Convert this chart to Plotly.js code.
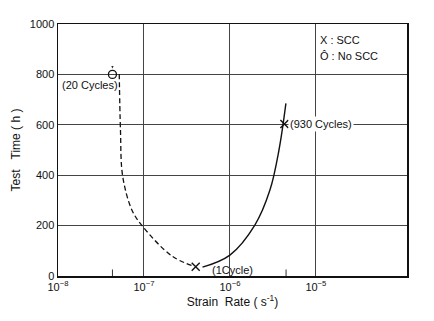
<!DOCTYPE html>
<html><head><meta charset="utf-8">
<script src="https://cdn.plot.ly/plotly-3.0.1.min.js"></script>
<style>body{margin:0;background:#fff}#c{width:434px;height:321px}</style>
</head><body><div id="c"></div>
<script>
// Dashed part of curve
const dashedRate = [5.16e-8, 5.33e-8, 5.65e-8, 7.24e-8, 9.7e-8, 2.12e-7, 3.85e-7];
const dashedTime = [802, 579, 397, 262, 196, 79, 38];
// Solid part of curve
const solidRate = [4.8e-7, 1.0e-6, 1.95e-6, 2.92e-6, 3.72e-6, 4.48e-6];
const solidTime = [35, 83, 202, 341, 500, 685];
// Test points
const noSccRate = [4.3e-8];
const noSccTime = [800];
const noSccLabel = ["(20 Cycles)"];
const sccRate = [4.0e-7, 4.3e-6];
const sccTime = [37, 603];
const sccLabel = ["(1Cycle)", "(930 Cycles)"];
const rateMarks = [4.3e-8, 4.5e-6];
const xTicks = [1e-8, 1e-7, 1e-6, 1e-5];
const xTickText = ["10<sup>−8</sup>", "10<sup>−7</sup>", "10<sup>−6</sup>", "10<sup>−5</sup>"];
const yTicks = [0, 200, 400, 600, 800, 1000];

const F = '"Liberation Sans Narrow", "Arial Narrow", "Liberation Sans", Arial, sans-serif';
const F2 = '"Liberation Sans", Arial, sans-serif';
const data = [
  {x: dashedRate, y: dashedTime, mode: 'lines', line: {color: '#111', width: 1.3, dash: '5px,3px', shape: 'spline', smoothing: 1}, hoverinfo: 'skip'},
  {x: solidRate, y: solidTime, mode: 'lines', line: {color: '#111', width: 1.4, shape: 'spline', smoothing: 1}, hoverinfo: 'skip'},
  {x: noSccRate, y: noSccTime, mode: 'markers', marker: {symbol: 'circle-open', size: 8, color: '#111', line: {width: 1.3, color: '#111'}}},
  {x: sccRate, y: sccTime, mode: 'markers', marker: {symbol: 'x-thin-open', size: 8, color: '#111', line: {width: 1.4, color: '#111'}}},
  {x: rateMarks, y: rateMarks.map(() => 12), mode: 'markers', marker: {symbol: 'line-ns-open', size: 5, color: '#333', line: {width: 1, color: '#333'}}, hoverinfo: 'skip'}
];
const ann = [];
ann.push({x: Math.log10(noSccRate[0]), y: noSccTime[0], text: noSccLabel[0], showarrow: false, xanchor: 'center', yanchor: 'top', xshift: -22, yshift: -3, font: {family: F, size: 11, color: '#111'}});
ann.push({x: Math.log10(noSccRate[0]), y: noSccTime[0], ax: 0, ay: -10, axref: 'pixel', ayref: 'pixel', text: '', showarrow: true, arrowhead: 2, arrowsize: 0.6, arrowwidth: 0.8, arrowcolor: '#333', standoff: 6});
ann.push({x: Math.log10(sccRate[0]), y: sccTime[0], text: sccLabel[0], showarrow: false, xanchor: 'left', yanchor: 'middle', xshift: 14, yshift: -3, font: {family: F2, size: 11, color: '#111'}});
ann.push({x: Math.log10(sccRate[1]), y: sccTime[1], text: sccLabel[1], showarrow: false, xanchor: 'left', yanchor: 'middle', xshift: 4, font: {family: F, size: 11, color: '#111'}, bgcolor: '#fff'});
ann.push({xref: 'paper', yref: 'paper', x: 0.745, y: 0.935, xanchor: 'left', yanchor: 'middle', text: 'X : SCC', showarrow: false, font: {family: F2, size: 11, color: '#111'}});
ann.push({xref: 'paper', yref: 'paper', x: 0.745, y: 0.872, xanchor: 'left', yanchor: 'middle', text: 'Ô : No SCC', showarrow: false, font: {family: F2, size: 11, color: '#111'}});

const layout = {
  width: 434, height: 321,
  margin: {l: 58, r: 27, t: 24, b: 45},
  paper_bgcolor: '#fff', plot_bgcolor: '#fff',
  showlegend: false,
  xaxis: {type: 'log', range: [-8, -3.94], tickvals: xTicks, ticktext: xTickText,
    showgrid: true, gridcolor: '#444', gridwidth: 1, zeroline: false,
    showline: true, linecolor: '#111', linewidth: 1.5, mirror: true, ticks: '',
    tickfont: {family: F, size: 11, color: '#111'},
    title: {text: 'Strain\u00a0\u00a0Rate\u00a0(\u00a0s<sup>-1</sup>)', font: {family: F2, size: 12, color: '#111'}, standoff: 6}},
  yaxis: {range: [0, 1000], tickvals: yTicks, showgrid: true, gridcolor: '#444', gridwidth: 1, zeroline: false,
    showline: true, linecolor: '#111', linewidth: 1.5, mirror: true, ticks: '',
    tickfont: {family: F, size: 11, color: '#111'},
    title: {text: 'Test\u00a0\u00a0\u00a0Time\u00a0(\u00a0h\u00a0)', font: {family: F2, size: 12, color: '#111'}, standoff: 6}},
  annotations: ann
};
Plotly.newPlot('c', data, layout, {staticPlot: true, displayModeBar: false});
</script></body></html>
